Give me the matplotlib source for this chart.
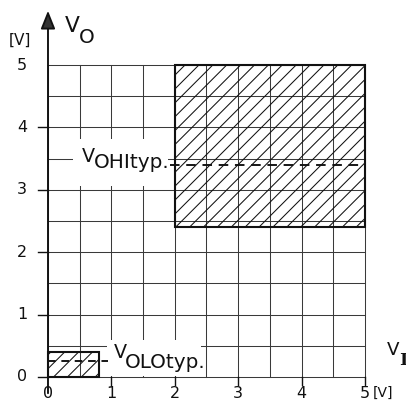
import numpy as np
import matplotlib
matplotlib.use("Agg")
import matplotlib.pyplot as plt
from matplotlib.patches import Rectangle

# Output-voltage vs input-voltage windows of a logic gate
x_ticks = [0, 1, 2, 3, 4, 5]
y_ticks = [0, 1, 2, 3, 4, 5]
grid_vals = np.arange(0, 5.01, 0.5)

vih_min, vi_max = 2.0, 5.0        # input range giving a HIGH output
voh_min, voh_max = 2.4, 5.0       # guaranteed HIGH output band
vil_max = 0.8                     # input range giving a LOW output
vol_max = 0.4                     # guaranteed LOW output band
voh_typ = 3.4
vol_typ = 0.25

DPI = 125
plt.rcParams["font.family"] = ["DejaVu Sans"]
plt.rcParams["hatch.linewidth"] = 0.6

fig = plt.figure(figsize=(406 / DPI, 401 / DPI), dpi=DPI)
ax = fig.add_axes([0, 0, 1, 1])
ax.set_xlim(-0.757, 5.647)
ax.set_ylim(-0.385, 6.042)
ax.axis("off")

ink = "#111111"
grid_c = "#3a3a3a"

# grid
for g in grid_vals:
    ax.plot([g, g], [0, 5], color=grid_c, lw=0.6, zorder=1)
    ax.plot([0, 5], [g, g], color=grid_c, lw=0.6, zorder=1)

# white areas behind the labels
ax.add_patch(Rectangle((0.4, 3.06), 1.5, 0.75, facecolor="white", edgecolor="none", zorder=2))
ax.add_patch(Rectangle((0.93, 0.02), 1.49, 0.58, facecolor="white", edgecolor="none", zorder=2))

# hatched windows
ax.add_patch(Rectangle((vih_min, voh_min), vi_max - vih_min, voh_max - voh_min,
                       facecolor="none", edgecolor=ink, hatch="///", lw=1.2, zorder=3))
ax.add_patch(Rectangle((0, 0), vil_max, vol_max,
                       facecolor="none", edgecolor=ink, hatch="///", lw=1.2, zorder=3))

# typical levels
ax.plot([1.92, vi_max], [voh_typ, voh_typ], color=ink, lw=1.1, ls=(0, (5, 3.5)), zorder=4)
ax.plot([0, 0.95], [vol_typ, vol_typ], color=ink, lw=1.1, ls=(0, (4, 3)), zorder=4)

# axes with arrows
ax.annotate("", xy=(0, 5.87), xytext=(0, -0.26),
            arrowprops=dict(arrowstyle="-|>,head_length=0.4,head_width=0.16",
                            mutation_scale=22, lw=1.1, color=ink, fc="#333333",
                            shrinkA=0, shrinkB=0), zorder=5)
ax.annotate("", xy=(5.72, 0), xytext=(-0.16, 0),
            arrowprops=dict(arrowstyle="-|>,head_length=0.4,head_width=0.16",
                            mutation_scale=22, lw=1.1, color=ink, fc="#333333",
                            shrinkA=0, shrinkB=0), zorder=5)

# ticks and tick labels
for t in y_ticks:
    if t < 5:
        ax.plot([-0.16, 0], [t, t], color=ink, lw=0.8, zorder=5)
    ax.text(-0.41, t, str(t), ha="center", va="center", fontsize=9.2, color=ink)
for t in x_ticks:
    if t > 0:
        ax.plot([t, t], [0, -0.13], color=ink, lw=0.8, zorder=5)
    ax.text(t, -0.15, str(t), ha="center", va="top", fontsize=9.2, color=ink)
ax.text(5.28, -0.15, "[V]", ha="center", va="top", fontsize=8.0, color=ink)
ax.text(-0.44, 5.40, "[V]", ha="center", va="center", fontsize=8.8, color=ink)

# axis names
ax.text(0.26, 5.53, "V", ha="left", va="baseline", fontsize=12.5, color=ink)
ax.text(0.48, 5.36, "O", ha="left", va="baseline", fontsize=11.5, color=ink)
ax.text(5.34, 0.35, "V", ha="left", va="baseline", fontsize=10.5, color=ink)
ax.text(5.535, 0.20, "I", ha="left", va="baseline", fontsize=10,
        family="DejaVu Serif", weight="bold", color=ink)

# typical-level labels
ax.text(0.53, 3.445, "V", ha="left", va="baseline", fontsize=11, color=ink, zorder=6)
ax.text(0.72, 3.35, "OHItyp.", ha="left", va="baseline", fontsize=11.5, color=ink, zorder=6)
ax.text(1.04, 0.30, "V", ha="left", va="baseline", fontsize=11, color=ink, zorder=6)
ax.text(1.22, 0.145, "OLOtyp.", ha="left", va="baseline", fontsize=11.5, color=ink, zorder=6)

fig.savefig("out.png", dpi=DPI, facecolor="white")
